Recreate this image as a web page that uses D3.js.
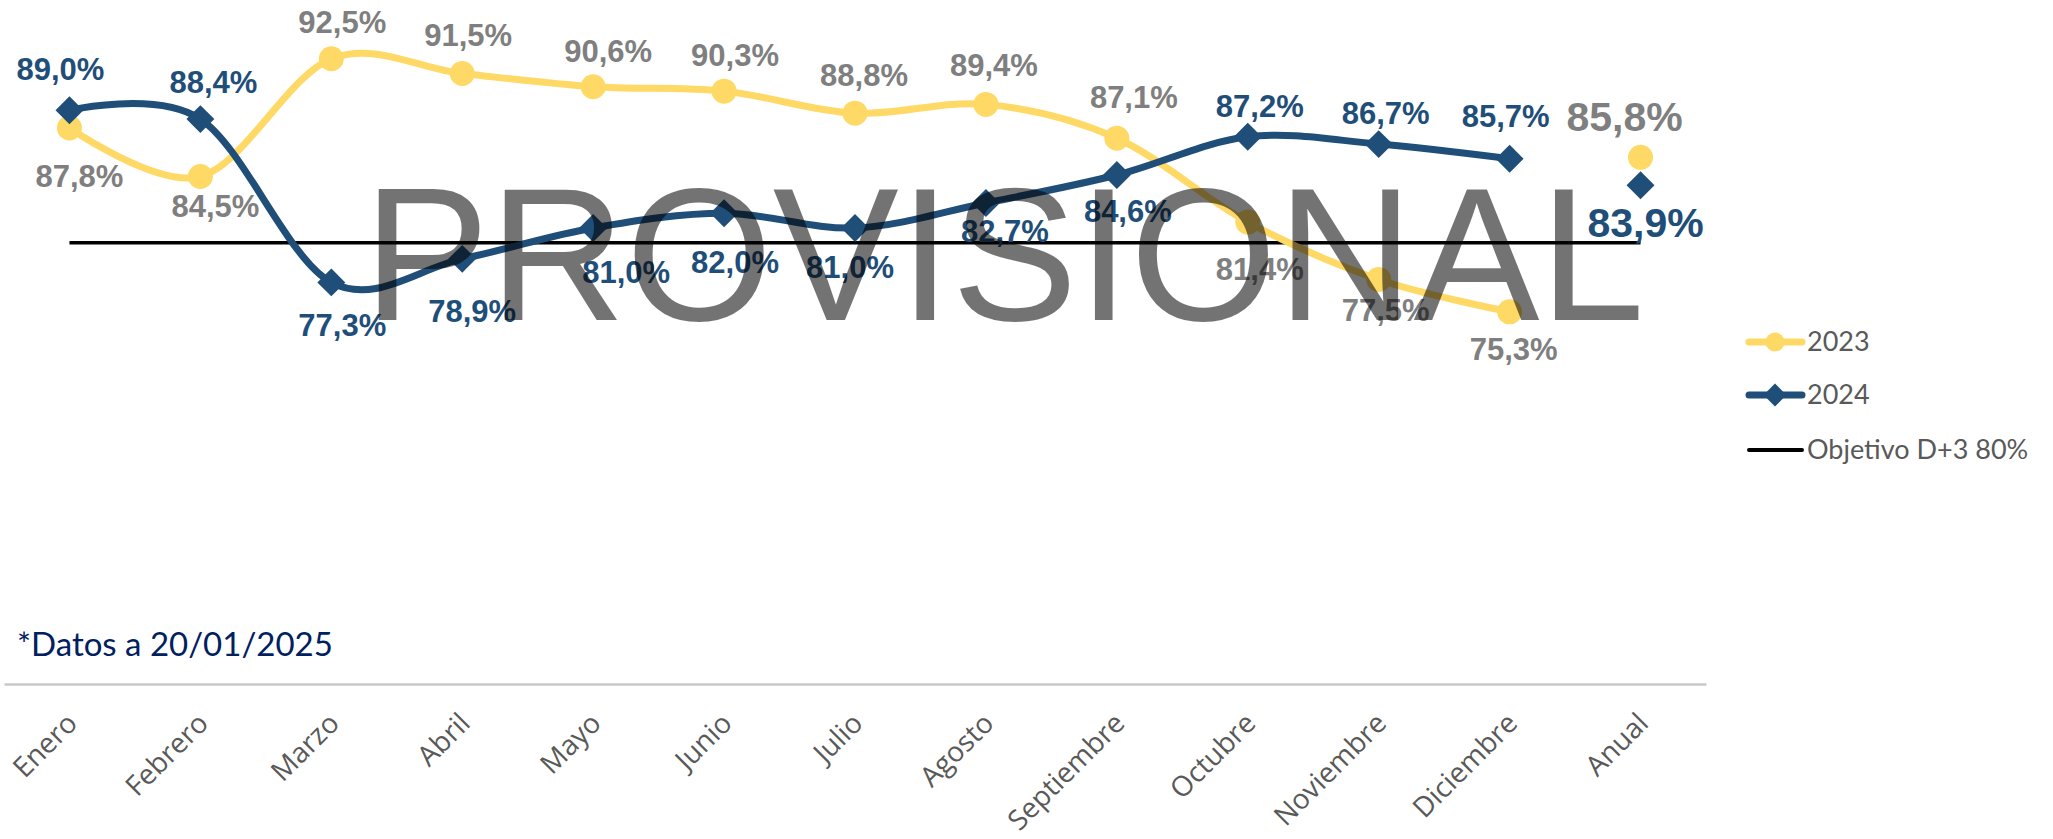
<!DOCTYPE html>
<html>
<head>
<meta charset="utf-8">
<script src="https://cdn.jsdelivr.net/npm/d3@7"></script>
<style>
  html, body { margin: 0; padding: 0; background: #ffffff; }
  svg { display: block; }
</style>
</head>
<body>
<svg id="chart" width="2053" height="839"></svg>
<script>
// ---------- data ----------
const categories = ["Enero","Febrero","Marzo","Abril","Mayo","Junio","Julio","Agosto","Septiembre","Octubre","Noviembre","Diciembre","Anual"];
const values2023 = [87.8, 84.5, 92.5, 91.5, 90.6, 90.3, 88.8, 89.4, 87.1, 81.4, 77.5, 75.3, 85.8];
const values2024 = [89.0, 88.4, 77.3, 78.9, 81.0, 82.0, 81.0, 82.7, 84.6, 87.2, 86.7, 85.7, 83.9];
const targetValue = 80;
const seriesNames = ["2023", "2024", "Objetivo D+3 80%"];
const footnote = "*Datos a 20/01/2025";
const watermark = "PROVISIONAL";

// ---------- label layout (pixel nudges of data labels) ----------
const lblDx2023 = [10, 15, 11, 6, 15, 11, 9, 8, 17, 12, 7, 4, -16];
const lblDy2023 = [59, 41, -26, -27, -25, -25, -27, -28, -30, 58, 42, 48, -26];
const lblDx2024 = [-9, 13, 11, 10, 33, 11, -5, 19, 11, 12, 7, -4, 5];
const lblDy2024 = [-30, -26, 54, 63, 55, 60, 50, 39, 47, -20, -20, -32, 52];

// ---------- styles ----------
const C2023 = "#FFD966";
const C2024 = "#1F4E79";
const CLBL23 = "#7F7F7F";

const svg = d3.select("#chart");

const x = d3.scalePoint().domain(categories).range([4, 1706]).padding(0.5);
const y = d3.scaleLinear().domain([50, 95]).range([684, 22]);

const fmt = v => d3.format(".1f")(v).replace(".", ",") + "%";

// x axis
const axisG = svg.append("g").attr("transform", `translate(0,${y(50)})`)
  .call(d3.axisBottom(x).tickSize(0).tickSizeOuter(0));
axisG.select(".domain").attr("stroke", "#c9c9c9").attr("stroke-width", 2.5);
axisG.selectAll(".tick text")
  .attr("x", 0).attr("y", 0).attr("dy", 0)
  .attr("text-anchor", "end")
  .attr("transform", "translate(9,41) rotate(-45)")
  .attr("fill", "#595959")
  .style("font-family", "'Open Sans', 'DejaVu Sans', sans-serif")
  .style("font-size", "28px");

// footnote
svg.append("text").attr("x", 17).attr("y", 656)
  .attr("fill", "#002060")
  .style("font-family", "Lato, 'Open Sans', sans-serif")
  .style("font-size", "33px")
  .text(footnote);

const monthIdx = d3.range(12);

// target line
svg.append("line")
  .attr("x1", x(categories[0])).attr("x2", x(categories[12]))
  .attr("y1", y(targetValue)).attr("y2", y(targetValue))
  .attr("stroke", "#000").attr("stroke-width", 3.5);

const line = d3.line().curve(d3.curveCardinal.tension(0));

function drawSeries(vals, color, marker) {
  const pts = monthIdx.map(i => [x(categories[i]), y(vals[i])]);
  svg.append("path").attr("d", line(pts)).attr("fill", "none")
    .attr("stroke", color).attr("stroke-width", 7).attr("stroke-linecap", "round");
  const all = categories.map((c, i) => [x(c), y(vals[i])]);
  if (marker === "circle") {
    svg.append("g").selectAll("circle").data(all).join("circle")
      .attr("cx", d => d[0]).attr("cy", d => d[1]).attr("r", 12.5).attr("fill", color);
  } else {
    const sym = d3.symbol().type(d3.symbolSquare).size(390);
    svg.append("g").selectAll("path").data(all).join("path")
      .attr("d", sym)
      .attr("transform", d => `translate(${d[0]},${d[1]}) rotate(45)`)
      .attr("fill", color);
  }
}
drawSeries(values2023, C2023, "circle");
drawSeries(values2024, C2024, "diamond");

// data labels
function drawLabels(vals, dx, dy, color) {
  svg.append("g").selectAll("text").data(vals).join("text")
    .attr("x", (d, i) => x(categories[i]) + dx[i])
    .attr("y", (d, i) => y(d) + dy[i])
    .attr("text-anchor", "middle")
    .attr("fill", color)
    .style("font-family", "'Liberation Sans', Arial, sans-serif")
    .style("font-weight", "bold")
    .style("font-size", (d, i) => i === 12 ? "41px" : "31px")
    .text(d => fmt(d));
}
drawLabels(values2023, lblDx2023, lblDy2023, CLBL23);
drawLabels(values2024, lblDx2024, lblDy2024, C2024);

// watermark on top
svg.append("text")
  .attr("x", 1004).attr("y", 320)
  .attr("text-anchor", "middle")
  .attr("fill", "#000").attr("fill-opacity", 0.55)
  .style("font-family", "'Liberation Sans', Arial, sans-serif")
  .style("font-size", "189px")
  .text(watermark);

// legend
const legend = svg.append("g");
const legY = [342, 395, 450];
legY.forEach((ly, i) => {
  const g = legend.append("g");
  const col = i === 0 ? C2023 : (i === 1 ? C2024 : "#000");
  g.append("line").attr("x1", 1749).attr("x2", 1802).attr("y1", ly).attr("y2", ly)
    .attr("stroke", col).attr("stroke-width", i === 2 ? 4 : 7).attr("stroke-linecap", "round");
  if (i === 0) g.append("circle").attr("cx", 1775).attr("cy", ly).attr("r", 9.5).attr("fill", col);
  if (i === 1) g.append("path").attr("d", d3.symbol().type(d3.symbolSquare).size(260))
    .attr("transform", `translate(1775,${ly}) rotate(45)`).attr("fill", col);
  g.append("text").attr("x", 1807).attr("y", ly + 9)
    .attr("fill", "#595959")
    .style("font-family", "Lato, 'Open Sans', sans-serif")
    .style("font-size", "27px")
    .text(seriesNames[i]);
});
</script>
</body>
</html>
